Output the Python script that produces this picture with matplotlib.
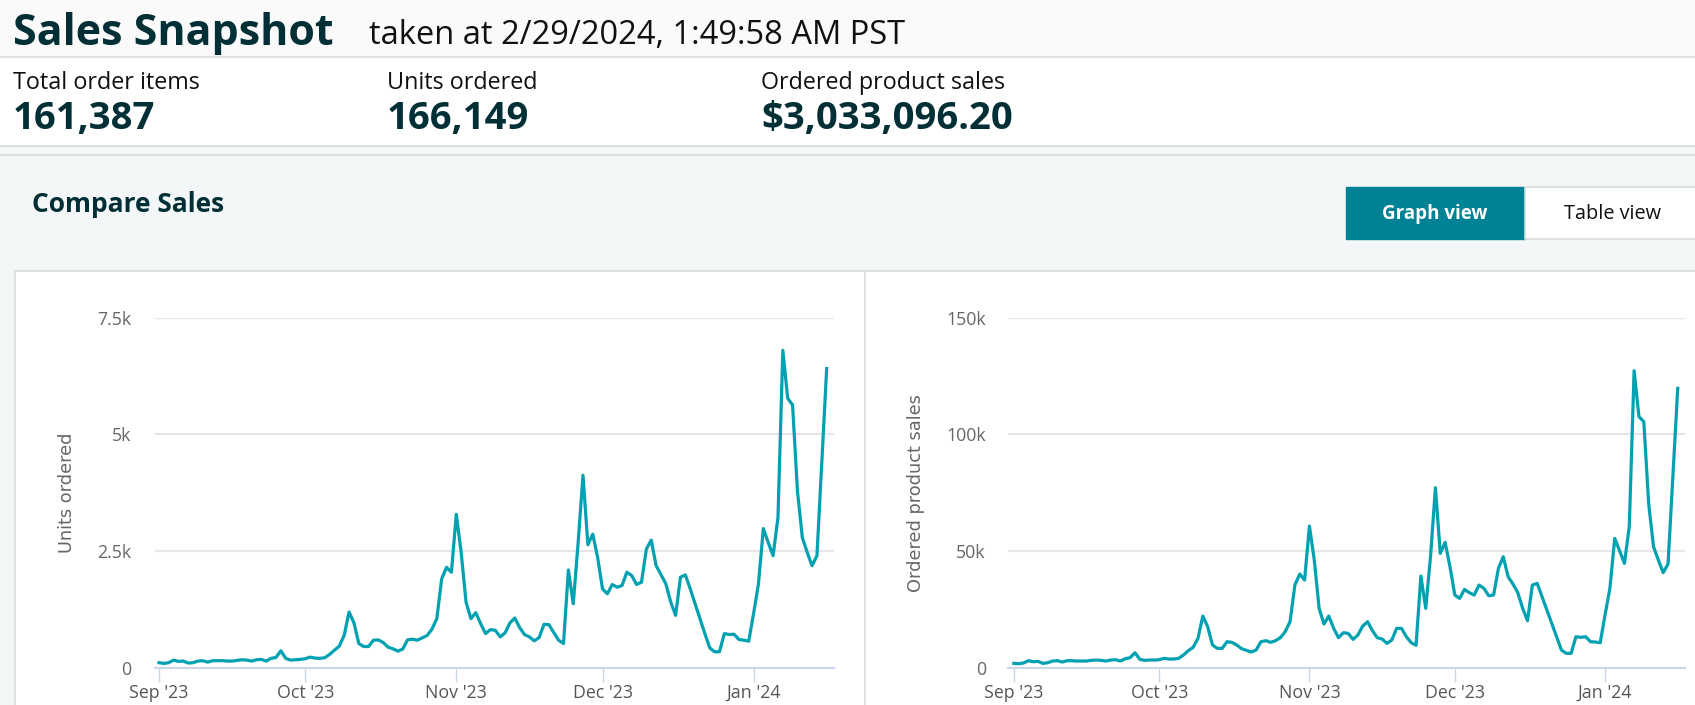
import pandas as pd
import matplotlib
matplotlib.use('Agg')
import matplotlib.pyplot as plt
import matplotlib.dates as mdates
from matplotlib.patches import Rectangle

# Daily values, Sep 1 2023 .. Jan 16 2024
start_date = '2023-09-01'
units_ordered = [
    107, 92, 107, 163, 135, 142, 100, 107, 142, 150,
    120, 150, 150, 150, 142, 142, 156, 170, 163, 142,
    170, 178, 142, 200, 220, 362, 200, 163, 170, 178,
    192, 227, 206, 200,
    213, 284, 376, 462, 696, 1193, 959, 518, 454, 454,
    589, 596, 540, 440, 405, 355, 398, 596, 611, 589,
    639, 689, 824, 1050, 1903, 2151, 2045, 3287, 2471, 1406,
    1050, 1178, 944, 731, 816, 802,
    660, 745, 959, 1065, 859, 710, 660, 575, 646, 930,
    923, 753, 589, 518, 2095, 1370, 2680, 4125, 2634, 2861,
    2364, 1690, 1583, 1782, 1725, 1761, 2045, 1974, 1782, 1832,
    2542, 2734, 2187, 1995, 1796, 1406,
    1122, 1939, 1989, 1690, 1371, 1051, 731, 426, 341, 341,
    731, 710, 717, 604, 589, 568, 1160, 1796, 2982, 2684,
    2400, 3217, 6802, 5772, 5630, 3785, 2790, 2471, 2187, 2400,
    4420, 6411,
]
product_sales = [
    1857, 1714, 2000, 3000, 2571, 2714, 1857, 2143, 2857, 3000,
    2429, 3000, 3000, 2857, 2857, 2857, 3143, 3286, 3143, 2857,
    3286, 3429, 2857, 3857, 4286, 6429, 3571, 3143, 3286, 3286,
    3429, 4000, 3714, 3714,
    4000, 5429, 7286, 8714, 12571, 22143, 17571, 9714, 8286, 8286,
    11143, 10857, 9714, 8143, 7429, 6714, 7571, 11143, 11571, 10857,
    11571, 12857, 15429, 19714, 35429, 40143, 37571, 60714, 46143, 25429,
    18714, 22143, 16857, 12857, 15000, 14714,
    12143, 14000, 17857, 19714, 15857, 12857, 12286, 10429, 11857, 16857,
    16857, 13286, 10714, 9571, 39286, 25429, 48000, 77143, 49000, 53714,
    43286, 31143, 29714, 33571, 32143, 31143, 35429, 34000, 30857, 31143,
    42571, 47571, 39000, 35857, 32143, 25429,
    20143, 35429, 36143, 30429, 24714, 19000, 13286, 7571, 6143, 6143,
    13286, 13000, 13286, 11143, 11000, 10714, 22571, 34000, 55429, 50143,
    44714, 60429, 127286, 107571, 105429, 70429, 51857, 46143, 40714, 44429,
    81857, 119714,
]
dates = pd.date_range(start_date, periods=len(units_ordered), freq='D')

header_title = 'Sales Snapshot'
header_stamp = 'taken at 2/29/2024, 1:49:58 AM PST'
metric_labels = ['Total order items', 'Units ordered', 'Ordered product sales']
metric_values = ['161,387', '166,149', '$3,033,096.20']
units_ticks = [0, 2500, 5000, 7500]
units_tick_labels = ['0', '2.5k', '5k', '7.5k']
sales_ticks = [0, 50000, 100000, 150000]
sales_tick_labels = ['0', '50k', '100k', '150k']

W, H = 1695, 705
FONT = ['Open Sans', 'DejaVu Sans']
INK = '#002f36'
LINE = '#00a1b1'
BORDER = '#d5dbdb'

fig = plt.figure(figsize=(W / 100, H / 100), dpi=100)

# page background drawn in pixel coordinates
bg = fig.add_axes([0, 0, 1, 1])
bg.set_xlim(0, W)
bg.set_ylim(H, 0)
bg.axis('off')
bg.add_patch(Rectangle((0, 0), W, 57, color='#fafafa'))
bg.add_patch(Rectangle((0, 57), W, 89, color='white'))
bg.add_patch(Rectangle((0, 146), W, H - 146, color='#f4f7f7'))
for y in (57, 146, 155):
    bg.axhline(y, color=BORDER, lw=1.2)
bg.add_patch(Rectangle((15, 271), W, H, facecolor='white', edgecolor=BORDER, lw=1.2))
bg.plot([865, 865], [271, H], color=BORDER, lw=1.2)

bg.text(13, 45, header_title, family=FONT, fontsize=31, fontweight='bold', color=INK, va='baseline')
bg.text(369, 44, header_stamp, family=FONT, fontsize=23.5, color='#0f1111', va='baseline')
for x, lab, val in zip([13, 387, 761], metric_labels, metric_values):
    bg.text(x, 89, lab, family=FONT, fontsize=16.8, color='#0f1111', va='baseline')
    bg.text(x, 129, val, family=FONT, fontsize=27.5, fontweight='bold', color=INK, va='baseline')

bg.text(32, 212, 'Compare Sales', family=FONT, fontsize=19, fontweight='bold', color=INK, va='baseline')
bg.add_patch(Rectangle((1346, 187), 179, 52, color='#008296'))
bg.add_patch(Rectangle((1525, 187), 200, 52, facecolor='white', edgecolor=BORDER, lw=1.2))
bg.text(1435, 214, 'Graph view', family=FONT, fontsize=13.5, fontweight='bold', color='white',
        ha='center', va='center')
bg.text(1613, 214, 'Table view', family=FONT, fontsize=14.3, color='#0f1111', ha='center', va='center')


def draw_chart(rect, values, ticks, tick_labels, left_pad_days, ypad):
    ax = fig.add_axes(rect)
    ax.plot(dates, values, color=LINE, lw=2.3, solid_joinstyle='round')
    ax.set_ylim(ticks[0], ticks[-1])
    ax.set_xlim(dates[0] - pd.Timedelta(days=left_pad_days), dates[0] + pd.Timedelta(days=138.5))
    ax.set_yticks(ticks)
    ax.set_yticklabels(tick_labels)
    ax.yaxis.grid(True, color='#e6e6e6', lw=1.5)
    ax.set_axisbelow(True)
    for side in ('top', 'right', 'left'):
        ax.spines[side].set_visible(False)
    ax.spines['bottom'].set_color('#ccd6eb')
    ax.spines['bottom'].set_linewidth(1.5)
    ax.xaxis.set_major_locator(mdates.MonthLocator())
    ax.xaxis.set_major_formatter(mdates.DateFormatter("%b '%y"))
    ax.tick_params(axis='x', length=10, width=1, color='#ccd6eb', labelsize=12.8,
                   labelcolor='#555555', pad=1.5)
    ax.tick_params(axis='y', length=0, labelsize=12.8, labelcolor='#666666', pad=ypad)
    for lbl in ax.get_xticklabels() + ax.get_yticklabels():
        lbl.set_family(FONT)
    ax.set_facecolor('none')
    return ax


draw_chart([155 / W, (H - 667.7) / H, (834 - 155) / W, 350 / H],
           units_ordered, units_ticks, units_tick_labels, 0.82, 17)
draw_chart([1008 / W, (H - 667.7) / H, (1685 - 1008) / W, 350 / H],
           product_sales, sales_ticks, sales_tick_labels, 1.2, 16)

bg.text(66.5, 493, 'Units ordered', fontsize=12.8, color='#666666', rotation=90, ha='center', va='center')
bg.text(916, 493, 'Ordered product sales', fontsize=12.8, color='#666666', rotation=90,
        ha='center', va='center')

fig.savefig('out.png', dpi=100)
